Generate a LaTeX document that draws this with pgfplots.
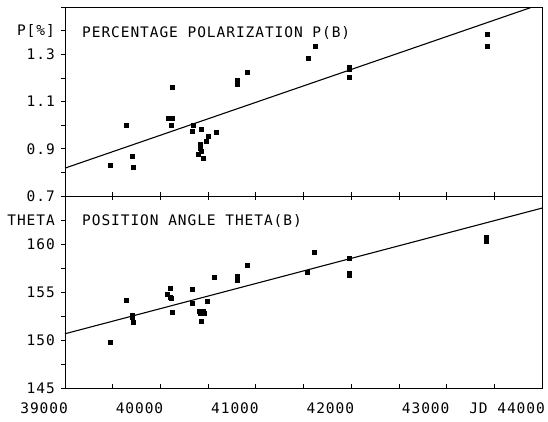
\documentclass[border=0pt]{standalone}
\usepackage{fontspec}
\setmainfont{DejaVu Sans Mono}[LetterSpace=6.5]
\usepackage{pgfplots}
\pgfplotsset{compat=1.18}
\newcommand\pf{\fontsize{14.5}{17}\selectfont}
\begin{document}
\begin{tikzpicture}[font=\pf]
\useasboundingbox (-65pt,-34pt) rectangle (483pt,388pt);
\pgfplotsset{
  panel/.style={
    scale only axis, width=477pt,
    xmin=39000, xmax=44000,
    scaled x ticks=false,
    xtick={39000,39500,...,44000},
    axis line style={line width=0.7pt},
    every tick/.style={line width=0.7pt, black},
    ytick pos=left,
    major tick length=4pt,
    tick label style={font=\pf},
    /pgf/number format/assume math mode=true,
    yticklabel style={inner sep=0pt, anchor=east, xshift=-6pt},
    clip=true,
  },
  pts/.style={only marks, mark=square*, mark size=2pt, black},
  fit/.style={black, line width=1.1pt, no marks},
}
\begin{axis}[panel, name=bot, at={(0,0)}, anchor=south west, height=192pt,
  ymin=145, ymax=165,
  ytick={145,147.5,...,165},
  yticklabels={145,,150,,155,,160,THETA,},
  xticklabels={39000,,40000,,41000,,42000,,43000,,JD 44000},
  xticklabel style={anchor=north east, inner sep=0pt, xshift=3pt, yshift=-15pt},
  xtick pos=both,
  tick align=inside, ytick align=outside,
]
\addplot[pts] coordinates {
(39471,149.77) (39638,154.18) (39708,152.6) (39708,152.4) (39714,151.87)
(40074,154.79) (40098,155.42) (40098,154.5) (40116,154.37) (40126,152.86)
(40331,155.32) (40331,153.84) (40492,154.08) (40407,153.05) (40444,153.0)
(40412,152.74) (40459,152.8) (40430,151.98) (40569,156.5) (40802,156.65)
(40806,156.19) (40907,157.81) (41535,157.1) (41615,159.1) (41981,158.55)
(41981,157.0) (41981,156.75) (43418,160.7) (43418,160.3)
};
\addplot[fit] coordinates {(39000,150.65) (44000,163.74)};
\node[font=\pf, anchor=base west, inner sep=0pt] at ([xshift=17pt,yshift=-30pt]rel axis cs:0,1) {POSITION ANGLE THETA(B)};
\end{axis}
\begin{axis}[panel, name=top, at={(0,192pt)}, anchor=south west, height=189pt,
  ymin=0.7, ymax=1.5,
  ytick={0.7,0.8,...,1.5},
  yticklabels={0.7,,0.9,,1.1,,1.3,{P[\%]},},
  xticklabels={},
  xtick pos=bottom,
  tick align=inside, ytick align=outside,
]
\addplot[pts] coordinates {
(39471,0.829) (39645,1.000) (39708,0.870) (39714,0.820) (40081,1.031)
(40126,1.031) (40109,1.000) (40126,1.161) (40339,1.000) (40331,0.975)
(40423,0.982) (40587,0.972) (40506,0.952) (40475,0.934) (40419,0.920)
(40412,0.903) (40430,0.890) (40395,0.877) (40447,0.860) (40810,1.172)
(40810,1.190) (40911,1.223) (41545,1.283) (41618,1.334) (41981,1.244)
(41981,1.235) (41981,1.203) (43428,1.385) (43428,1.335)
};
\addplot[fit] coordinates {(39000,0.818) (44000,1.514)};
\node[font=\pf, anchor=base west, inner sep=0pt] at ([xshift=17pt,yshift=-30pt]rel axis cs:0,1) {PERCENTAGE POLARIZATION P(B)};
\end{axis}
\end{tikzpicture}
\end{document}
